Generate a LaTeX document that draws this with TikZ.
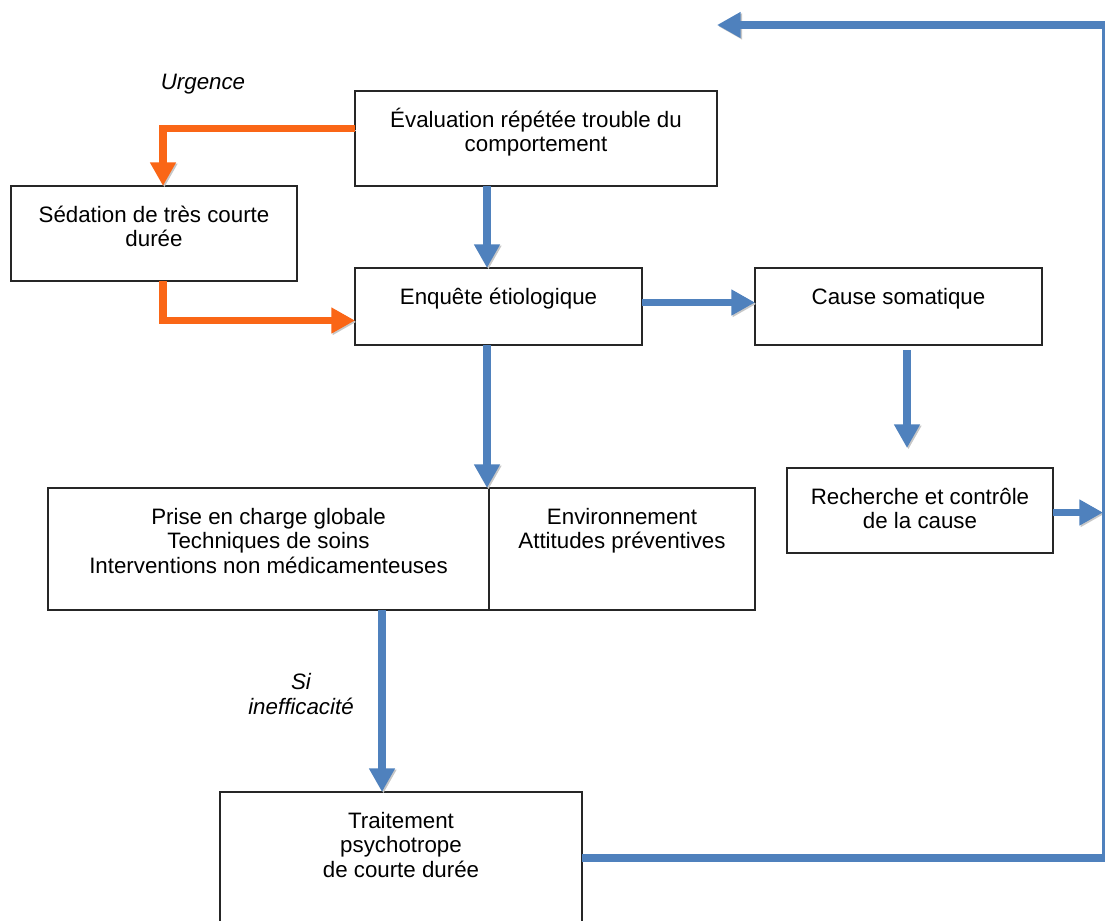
\documentclass[tikz,border=0pt]{standalone}
\usepackage{fontspec}
\setmainfont{Liberation Sans}
\usetikzlibrary{arrows.meta, positioning}

\definecolor{bleu}{RGB}{79,129,189}
\definecolor{orangevif}{RGB}{250,102,22}

\newlength{\unitpx}
\setlength{\unitpx}{0.02cm}
% box text: fixed size, text at the top
\newcommand{\texteboite}[3]{\parbox[c][#2\unitpx][t]{#1\unitpx}{\centering\rule{0pt}{36\unitpx}#3}}

\tikzset{
  boite/.style={draw=black!85, line width=0.8pt, inner sep=0pt, outer sep=0pt,
    anchor=north west, font=\fontsize{12.7}{14.2}\selectfont},
  fleche/.style={line width=4.4pt, -{Triangle[width=14pt,length=13.5pt]},
    preaction={draw=black!22, transform canvas={shift={(0.8pt,-0.8pt)}}}},
  bleue/.style={fleche, draw=bleu},
  orangee/.style={fleche, draw=orangevif},
  note/.style={font=\itshape\fontsize{12.7}{14.2}\selectfont, align=center}
}

\begin{document}
\begin{tikzpicture}[x=0.02cm, y=-0.02cm]
  \useasboundingbox (0,0) rectangle (1105,920);

  \node[boite] (eval) at (355,91) {\texteboite{362}{95}{\'Evaluation r\'ep\'et\'ee trouble du\\comportement}};
  \node[boite] (sed) at (11,186) {\texteboite{286}{95}{S\'edation de tr\`es courte\\dur\'ee}};
  \node[boite] (enq) at (355,268) {\texteboite{287}{77}{Enqu\^ete \'etiologique}};
  \node[boite] (cause) at (755,268) {\texteboite{287}{77}{Cause somatique}};
  \node[boite] (rech) at (787,468) {\texteboite{266}{85}{Recherche et contr\^ole\\de la cause}};
  \node[boite] (prise) at (48,488) {\texteboite{441}{122}{Prise en charge globale\\Techniques de soins\\Interventions non m\'edicamenteuses}};
  \node[boite] (env) [right=0pt of prise] {\texteboite{266}{122}{Environnement\\Attitudes pr\'eventives}};
  \node[boite] (trait) at (220,792) {\texteboite{362}{160}{Traitement\\psychotrope\\de courte dur\'ee}};

  \node[note] (urgence) at (203,84) {Urgence};
  \node[note] (si) at (301,694) {Si\\inefficacit\'e};

  \coordinate (axe) at (487,0);
  \coordinate (axe2) at (907,0);
  \coordinate (axe3) at (382,0);
  \coordinate (bord) at (1103,0);
  \coordinate (coin) at (1106,25);

  \draw[orangee] ([yshift=10\unitpx]eval.west) -| ([xshift=9\unitpx]sed.north);
  \draw[orangee] ([xshift=9\unitpx]sed.south) |- ([yshift=-14\unitpx]enq.west);

  \draw[bleue] (eval.south -| axe) -- (enq.north -| axe);
  \draw[bleue] ([yshift=4\unitpx]enq.east) -- ([yshift=4\unitpx]cause.west);
  \draw[bleue] (enq.south -| axe) -- (prise.north -| axe);
  \draw[bleue, shorten <=5\unitpx, shorten >=20\unitpx] (cause.south -| axe2) -- (rech.north -| axe2);
  \draw[bleue] ([yshift=-2\unitpx]rech.east) -- ([yshift=-2\unitpx]rech.east -| bord);
  \draw[bleue] (prise.south -| axe3) -- (trait.north -| axe3);
  \draw[bleue] ([yshift=14\unitpx]trait.east) -| (coin) -- (coin -| eval.east);
\end{tikzpicture}
\end{document}
